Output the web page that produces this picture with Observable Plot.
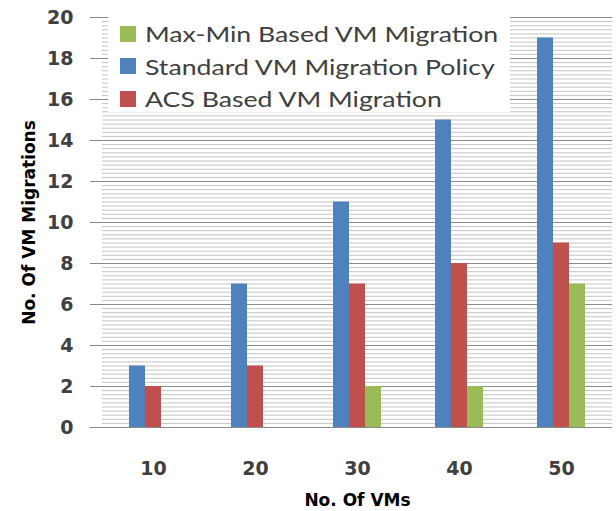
<!DOCTYPE html>
<html>
<head>
<meta charset="utf-8">
<script src="https://cdn.jsdelivr.net/npm/d3@7"></script>
<script src="https://cdn.jsdelivr.net/npm/@observablehq/plot@0.6"></script>
<style>
  body { margin: 0; background: #fff; }
  #wrap { position: relative; width: 616px; height: 511px; }
  #legend { position: absolute; left: 108px; top: 9px; width: 402px; height: 103px; background: #fff;
            font-family: Lato, "Open Sans", sans-serif; font-size: 21px; color: #404040; }
  .row { position: absolute; left: 12px; display: flex; align-items: center; white-space: nowrap; }
  .sw { width: 16px; height: 16px; margin-right: 9px; }
  .row span { display: inline-block; transform: scaleX(1.27); transform-origin: left center; }
</style>
</head>
<body>
<div id="wrap"></div>
<script>
const categories = ["10", "20", "30", "40", "50"];
const seriesNames = ["Standard VM Migration Policy", "ACS Based VM Migration", "Max-Min Based VM Migration"];
const standardValues = [3, 7, 11, 15, 19];
const acsValues = [2, 3, 7, 8, 9];
const maxMinValues = [0, 0, 2, 2, 7];
const seriesColors = ["#4F81BD", "#C0504D", "#9BBB59"];
const legendOrder = ["Max-Min Based VM Migration", "Standard VM Migration Policy", "ACS Based VM Migration"];
const majorTicks = [0, 2, 4, 6, 8, 10, 12, 14, 16, 18, 20];
const minorTicks = d3.range(0, 20.001, 0.2).map(v => +v.toFixed(1));

const allValues = [standardValues, acsValues, maxMinValues];
const data = [];
categories.forEach((c, i) => {
  seriesNames.forEach((s, j) => data.push({vms: c, series: s, value: allValues[j][i]}));
});

const chart = Plot.plot({
  width: 616,
  height: 511,
  marginLeft: 100,
  marginRight: 2,
  marginTop: 17,
  marginBottom: 84,
  style: {fontFamily: "'DejaVu Sans', sans-serif", color: "#404040", background: "#fff"},
  fx: {domain: categories, padding: 0},
  x: {domain: seriesNames, axis: null, paddingInner: 0, paddingOuter: 1.53},
  y: {domain: [0, 20]},
  color: {domain: seriesNames, range: seriesColors},
  marks: [
    Plot.ruleY(minorTicks, {stroke: "#c4c4c4", strokeWidth: 1}),
    Plot.ruleY(majorTicks, {stroke: "#8a8a8a", strokeWidth: 1}),
    Plot.ruleX([0], {frameAnchor: "left", stroke: "#8a8a8a"}),
    Plot.barY(data, {fx: "vms", x: "series", y: "value", fill: "series"}),
    Plot.axisY({ticks: majorTicks, tickSize: 12, tickPadding: 17, fontSize: 19, fontWeight: "bold", stroke: "#8a8a8a",
                label: "No. Of VM Migrations", labelAnchor: "center", labelOffset: 80, labelArrow: false}),
    Plot.axisFx({anchor: "bottom", tickSize: 0, tickPadding: 34, fontSize: 19, fontWeight: "bold",
                 label: "No. Of VMs", labelAnchor: "center", labelOffset: 78, labelArrow: false})
  ]
});
const wrap = document.getElementById("wrap");
wrap.appendChild(chart);

// axis label styling
d3.select(chart).selectAll("g[aria-label='y-axis label'] text, g[aria-label='fx-axis label'] text")
  .attr("font-weight", "bold").attr("font-size", 17).attr("fill", "#000");

const legend = document.createElement("div");
legend.id = "legend";
legendOrder.forEach((name, i) => {
  const row = document.createElement("div");
  row.className = "row";
  row.style.top = (12 + i * 32.5) + "px";
  const sw = document.createElement("div");
  sw.className = "sw";
  sw.style.background = seriesColors[seriesNames.indexOf(name)];
  const t = document.createElement("span");
  t.textContent = name;
  row.appendChild(sw);
  row.appendChild(t);
  legend.appendChild(row);
});
wrap.appendChild(legend);
</script>
</body>
</html>
